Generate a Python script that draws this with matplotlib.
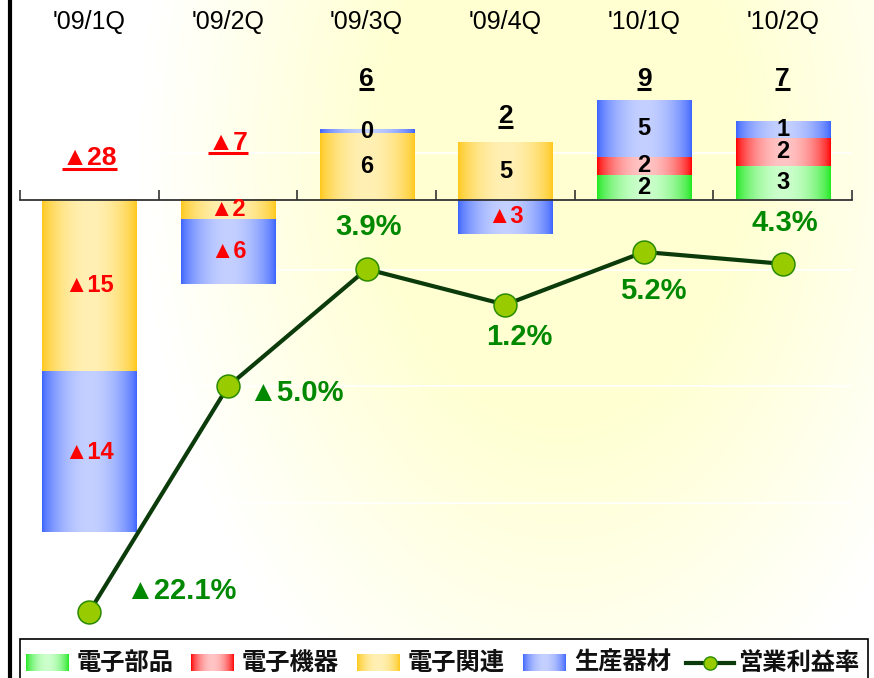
import numpy as np
import matplotlib
matplotlib.use("Agg")
import matplotlib.pyplot as plt
from matplotlib import font_manager
from matplotlib.colors import to_rgb
from matplotlib.lines import Line2D
from matplotlib.patches import Rectangle

# ---- data ----
quarters = ["'09/1Q", "'09/2Q", "'09/3Q", "'09/4Q", "'10/1Q", "'10/2Q"]
series_names = ["電子部品", "電子機器", "電子関連", "生産器材"]
denshi_buhin = [0, 0, 0, 0, 2.15, 2.95]
denshi_kiki = [0, 0, 0, 0, 1.58, 2.45]
denshi_kanren = [-15.1, -1.75, 5.85, 5.0, 0, 0]
seisan_kizai = [-14.1, -5.7, 0.3, -3.0, 5.0, 1.45]
totals = [-28, -7, 6, 2, 9, 7]
margin_name = "営業利益率"
margin_pct = [-22.1, -5.0, 3.9, 1.2, 5.2, 4.3]

# ---- styling / layout ----
SERIES_COLORS = [("#1ee81e", "#ccffcc"),   # (edge, centre) of the bar gradient
                 ("#ff0000", "#ffc4c4"),
                 ("#ffc81a", "#fff0b4"),
                 ("#3c64ff", "#c4d0ff")]
LINE_COLOR, MARKER_FACE, MARKER_EDGE = "#0b3b0b", "#99cc00", "#2a8a00"
PCT_COLOR = "#008800"
W, H, DPI = 874, 678, 100
PLOT_LEFT, PLOT_RIGHT, PLOT_TOP, PLOT_BOTTOM = 20, 852, 0, 638   # px
ZERO_PX, PX_PER_UNIT = 199.5, 11.4      # primary axis (bars)
PCT_ZERO_PX, PX_PER_PCT = 320.5, 13.18  # secondary axis (margin line)
BAR_WIDTH = 0.68
TOTAL_LABEL_Y = [3.0, 4.35, 10.0, 6.7, 10.0, 10.0]   # baseline of the underlined totals
PCT_OFFSETS = [(66, 15), (49, -5), (1, 30), (10, -23), (6.5, -28), (1.5, 29.5)]  # pt
LEGEND_X = [26, 191, 357, 523, 686]   # px, left edge of each legend handle

NUM_FONT = ["Liberation Sans", "DejaVu Sans"]
CJK_FONT = ["Noto Sans CJK JP", "DejaVu Sans"]
_names = {f.name for f in font_manager.fontManager.ttflist}
if "Liberation Sans Narrow" in _names:
    CAT_FONT, CAT_SIZE = "Liberation Sans Narrow", 21
else:
    CAT_FONT, CAT_SIZE = "Liberation Sans", 18


def _hgrad(edge, centre, n=128):
    # horizontal gradient: saturated at both edges, pale in the middle
    e, c = np.array(to_rgb(edge)), np.array(to_rgb(centre))
    t = np.linspace(0, 1, n)
    f = np.sin(np.pi * t) ** 0.7
    return (e + (c - e) * f[:, None])[None, :, :]


def _neg(v, fmt="{:d}", suffix=""):
    return ("▲" if v < 0 else "") + fmt.format(abs(v)) + suffix


def main():
    fig = plt.figure(figsize=(W / DPI, H / DPI), dpi=DPI)
    fig.patch.set_facecolor("white")

    # soft yellow background glow
    bg = fig.add_axes([0, 0, 1, 1], zorder=0)
    yy, xx = np.mgrid[0:H, 0:W]
    d = np.sqrt(((xx - 560) / 400.0) ** 2 + ((yy - 150) / 600.0) ** 2)
    a = np.clip((1.05 - d) / 0.6, 0, 1)[..., None]
    img = np.ones((H, W, 3)) * (1 - a) + np.array([1.0, 1.0, 210 / 255]) * a
    bg.imshow(img, extent=(0, W, H, 0), aspect="auto", interpolation="bilinear")
    bg.axis("off")

    ax = fig.add_axes([PLOT_LEFT / W, (H - PLOT_BOTTOM) / H,
                       (PLOT_RIGHT - PLOT_LEFT) / W, (PLOT_BOTTOM - PLOT_TOP) / H], zorder=1)
    ax.patch.set_visible(False)
    x = np.arange(len(quarters))

    series = [denshi_buhin, denshi_kiki, denshi_kanren, seisan_kizai]
    pos_bottom = np.zeros(len(quarters))
    neg_bottom = np.zeros(len(quarters))
    for vals, (edge, centre) in zip(series, SERIES_COLORS):
        vals = np.asarray(vals, dtype=float)
        bottom = np.where(vals >= 0, pos_bottom, neg_bottom)
        bars = ax.bar(x, vals, BAR_WIDTH, bottom=bottom, color="none", linewidth=0)
        grad = _hgrad(edge, centre)
        for b, v in zip(bars, vals):
            if v == 0:
                continue
            x0, y0, w, h = b.get_x(), b.get_y(), b.get_width(), b.get_height()
            ax.imshow(grad, extent=(x0, x0 + w, y0, y0 + h), aspect="auto",
                      interpolation="bilinear", zorder=2)
            ax.text(x0 + w / 2, y0 + h / 2, _neg(int(round(v))), ha="center", va="center",
                    fontsize=17, fontweight="bold", family=NUM_FONT,
                    color="red" if v < 0 else "black", zorder=4)
        pos_bottom += np.where(vals > 0, vals, 0)
        neg_bottom += np.where(vals < 0, vals, 0)

    # quarter labels along the top
    for xi, q in zip(x, quarters):
        ax.text(xi, 1 - 21.5 / (PLOT_BOTTOM - PLOT_TOP), q, transform=ax.get_xaxis_transform(),
                ha="center", va="center", fontsize=CAT_SIZE, family=[CAT_FONT, "DejaVu Sans"])

    # underlined totals
    total_texts = []
    for xi, tot, ty in zip(x, totals, TOTAL_LABEL_Y):
        t = ax.text(xi, ty, _neg(tot), ha="center", va="baseline", fontsize=19,
                    fontweight="bold", family=NUM_FONT,
                    color="red" if tot < 0 else "black", zorder=4)
        total_texts.append(t)

    ax.set_xlim(-0.5, len(quarters) - 0.5)
    ax.set_ylim(-(PLOT_BOTTOM - ZERO_PX) / PX_PER_UNIT, (ZERO_PX - PLOT_TOP) / PX_PER_UNIT)
    for s in ("top", "left", "right"):
        ax.spines[s].set_visible(False)
    ax.spines["bottom"].set_position(("data", 0))
    ax.spines["bottom"].set_color("#333333")
    ax.spines["bottom"].set_linewidth(1.3)
    ax.spines["bottom"].set_zorder(3)
    ax.set_xticks(np.arange(-0.5, len(quarters)))
    ax.tick_params(axis="x", direction="in", length=7, width=1.2, color="#333333",
                   labelbottom=False)
    ax.set_yticks(np.arange(4.1, -30, -10.25))
    ax.tick_params(axis="y", length=0, labelleft=False)
    ax.set_axisbelow(True)
    ax.yaxis.grid(True, color="white", linewidth=1.2)

    # operating margin line on a secondary axis
    ax2 = ax.twinx()
    ax2.set_zorder(2)
    ax2.patch.set_visible(False)
    ax2.plot(x, margin_pct, color=LINE_COLOR, lw=3, marker="o", ms=16.5,
             mfc=MARKER_FACE, mec=MARKER_EDGE, mew=1.1, zorder=3)
    for xi, v, off in zip(x, margin_pct, PCT_OFFSETS):
        ax2.annotate(_neg(v, "{:.1f}", "%"), (xi, v), xytext=off, textcoords="offset points",
                     ha="center", va="center", fontsize=21, fontweight="bold",
                     family=NUM_FONT, color=PCT_COLOR)
    ax2.set_ylim(-(PLOT_BOTTOM - PCT_ZERO_PX) / PX_PER_PCT, (PCT_ZERO_PX - PLOT_TOP) / PX_PER_PCT)
    ax2.axis("off")

    # overlay in pixel units: left rule + legend
    lax = fig.add_axes([0, 0, 1, 1], zorder=5)
    lax.set_xlim(0, W)
    lax.set_ylim(H, 0)
    lax.axis("off")
    lax.plot([9.5, 9.5], [0, H], color="black", lw=3, solid_capstyle="butt")
    lax.add_patch(Rectangle((19.5, 638.5), 848, 50, facecolor="white",
                            edgecolor="black", lw=1.2))

    fig.canvas.draw()
    r = fig.canvas.get_renderer()
    inv = fig.transFigure.inverted()

    # underline the totals
    for t in total_texts:
        bb = t.get_window_extent(r)
        base = ax.transData.transform(t.get_position())[1]
        (fx0, fy), (fx1, _) = inv.transform([(bb.x0, base - 3.5), (bb.x1, base - 3.5)])
        fig.add_artist(Line2D([fx0, fx1], [fy, fy], color=t.get_color(), lw=2.2,
                              solid_capstyle="butt", zorder=6))

    # legend entries
    ly = 662.5
    for lx, name, (edge, centre) in zip(LEGEND_X, series_names, SERIES_COLORS):
        lax.imshow(_hgrad(edge, centre), extent=(lx, lx + 43, 671, 654), aspect="auto",
                   interpolation="bilinear", zorder=6)
        lax.text(lx + 51, ly, name, ha="left", va="center", fontsize=17.5,
                 fontweight="bold", family=CJK_FONT, color="#111111", zorder=6)
    lx = LEGEND_X[-1]
    lax.plot([lx, lx + 48], [ly, ly], color=LINE_COLOR, lw=3, marker="none", zorder=6)
    lax.plot([lx + 24], [ly], marker="o", ms=9.5, mfc=MARKER_FACE, mec=MARKER_EDGE,
             mew=1, zorder=7)
    lax.text(lx + 52, ly, margin_name, ha="left", va="center", fontsize=17.5,
             fontweight="bold", family=CJK_FONT, color="#111111", zorder=6)
    lax.set_xlim(0, W)
    lax.set_ylim(H, 0)

    fig.savefig("out.png", dpi=DPI, facecolor="white")
    plt.close(fig)


if __name__ == "__main__":
    main()
